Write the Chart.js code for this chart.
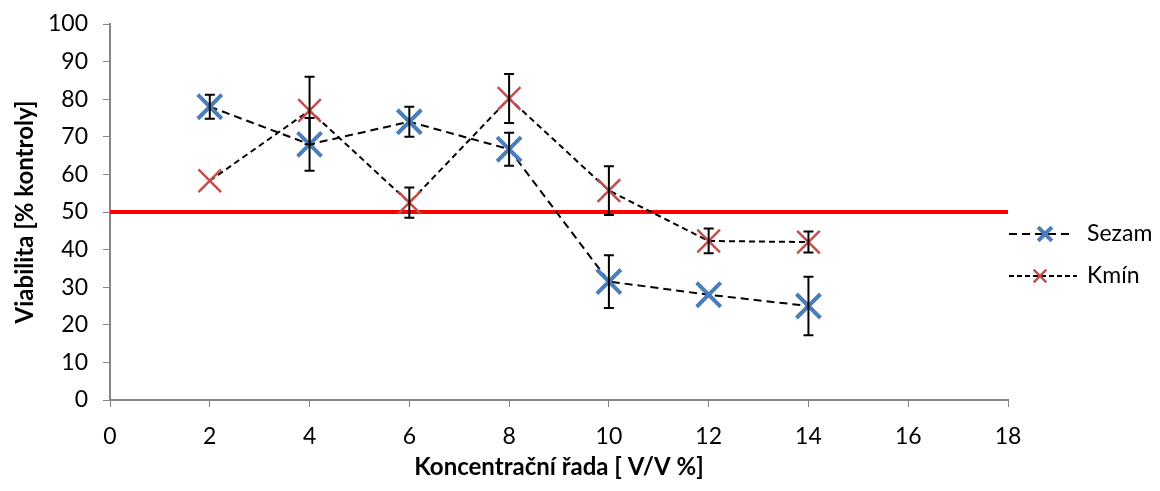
<!DOCTYPE html>
<html>
<head>
<meta charset="utf-8">
<script src="https://cdn.jsdelivr.net/npm/chart.js@4.4.0/dist/chart.umd.min.js"></script>
<style>
  html, body { margin: 0; padding: 0; background: #fff; }
  #wrap { width: 1160px; height: 491px; }
</style>
</head>
<body>
<div id="wrap"><canvas id="myChart" width="1160" height="491"></canvas></div>
<script>
// data
var concentrations = [2, 4, 6, 8, 10, 12, 14];
var sezamValues = [78, 68, 74, 66.7, 31.5, 28, 25];
var sezamErrors = [3.2, 7, 4, 4.4, 7, 0, 7.8];
var kminValues = [58.3, 77, 52.5, 80.2, 55.7, 42.3, 42];
var kminErrors = [0, 9, 4, 6.5, 6.5, 3.3, 2.8];
var limitX = [0, 18];
var limitY = [50, 50];
var seriesNames = ['Sezam', 'Kmín'];

var fontFamily = "Lato, 'Open Sans', sans-serif";
var axisGray = '#868686';
var sezamColor = '#4a7ebb';
var kminColor = '#c0504d';

function toPoints(xs, ys) {
    return xs.map(function (x, i) { return { x: x, y: ys[i] }; });
}

// chybove usecky
var errorBars = {
    id: 'errorBars',
    afterDatasetsDraw: function (chart) {
        var ctx = chart.ctx;
        var xs = chart.scales.x, ys = chart.scales.y;
        var sets = [[sezamValues, sezamErrors], [kminValues, kminErrors]];
        ctx.save();
        ctx.strokeStyle = '#000';
        ctx.lineWidth = 2;
        sets.forEach(function (s) {
            concentrations.forEach(function (c, i) {
                var err = s[1][i];
                if (!err) return;
                var px = xs.getPixelForValue(c);
                var top = ys.getPixelForValue(s[0][i] + err);
                var bot = ys.getPixelForValue(s[0][i] - err);
                ctx.beginPath();
                ctx.moveTo(px, top); ctx.lineTo(px, bot);
                ctx.moveTo(px - 5, top); ctx.lineTo(px + 5, top);
                ctx.moveTo(px - 5, bot); ctx.lineTo(px + 5, bot);
                ctx.stroke();
            });
        });
        ctx.restore();
    }
};

// legenda vpravo
var sideLegend = {
    id: 'sideLegend',
    afterDraw: function (chart) {
        var ctx = chart.ctx;
        var rows = [
            { name: seriesNames[0], y: 234, dash: [8, 5], color: sezamColor, r: 13, w: 4, mx: 1045, x1: 1009, x2: 1072 },
            { name: seriesNames[1], y: 276, dash: [5, 3], color: kminColor, r: 12, w: 2.5, mx: 1040, x1: 1009, x2: 1077 }
        ];
        ctx.save();
        rows.forEach(function (row) {
            ctx.setLineDash(row.dash);
            ctx.strokeStyle = '#000';
            ctx.lineWidth = 2;
            ctx.beginPath();
            ctx.moveTo(row.x1, row.y); ctx.lineTo(row.x2, row.y);
            ctx.stroke();
            ctx.setLineDash([]);
            ctx.strokeStyle = row.color;
            ctx.lineWidth = row.w;
            ctx.beginPath();
            var d = row.r * 0.75 * Math.SQRT1_2;
            ctx.moveTo(row.mx - d, row.y - d); ctx.lineTo(row.mx + d, row.y + d);
            ctx.moveTo(row.mx - d, row.y + d); ctx.lineTo(row.mx + d, row.y - d);
            ctx.stroke();
            ctx.fillStyle = '#000';
            ctx.font = '23px ' + fontFamily;
            ctx.textBaseline = 'middle';
            ctx.fillText(row.name, 1087, row.y);
        });
        ctx.restore();
    }
};

new Chart(document.getElementById('myChart'), {
    type: 'scatter',
    data: {
        datasets: [
            {
                label: seriesNames[0],
                data: toPoints(concentrations, sezamValues),
                showLine: true,
                borderColor: '#000',
                borderWidth: 2,
                borderDash: [8, 5],
                pointStyle: 'crossRot',
                pointRadius: 17,
                pointBorderWidth: 4,
                pointBorderColor: sezamColor,
                pointBackgroundColor: sezamColor,
                order: 1
            },
            {
                label: seriesNames[1],
                data: toPoints(concentrations, kminValues),
                showLine: true,
                borderColor: '#000',
                borderWidth: 2,
                borderDash: [6, 4],
                pointStyle: 'crossRot',
                pointRadius: 16,
                pointBorderWidth: 2.5,
                pointBorderColor: kminColor,
                pointBackgroundColor: kminColor,
                order: 2
            },
            {
                label: 'limit',
                data: toPoints(limitX, limitY),
                showLine: true,
                borderColor: '#ff0000',
                borderWidth: 4,
                pointRadius: 0,
                order: 3
            }
        ]
    },
    options: {
        responsive: false,
        animation: false,
        layout: { padding: { top: 24, right: 152, left: 0, bottom: 0 } },
        plugins: { legend: { display: false }, tooltip: { enabled: false } },
        scales: {
            x: {
                type: 'linear',
                min: 0, max: 18,
                ticks: { stepSize: 2, color: '#000', font: { family: fontFamily, size: 23 }, padding: 16 },
                grid: { drawOnChartArea: false, drawTicks: true, tickLength: 7, color: axisGray },
                border: { color: axisGray, width: 2 },
                title: { display: true, text: 'Koncentrační řada [ V/V %]', color: '#000', font: { family: fontFamily, size: 24, weight: 'bold' }, padding: { top: 4, bottom: 9 } },
                afterFit: function (scale) { scale.height = 91; scale.paddingLeft = 0; scale.paddingRight = 0; }
            },
            y: {
                min: 0, max: 100,
                ticks: { stepSize: 10, color: '#000', font: { family: fontFamily, size: 23 }, padding: 15 },
                grid: { drawOnChartArea: false, drawTicks: true, tickLength: 7, color: axisGray },
                border: { color: axisGray, width: 2 },
                title: { display: true, text: 'Viabilita [% kontroly]', color: '#000', font: { family: fontFamily, size: 24, weight: 'bold' }, padding: { top: 11, bottom: 4 } },
                afterFit: function (scale) { scale.width = 110; scale.paddingTop = 0; scale.paddingBottom = 0; }
            }
        }
    },
    plugins: [errorBars, sideLegend]
});
</script>
</body>
</html>
